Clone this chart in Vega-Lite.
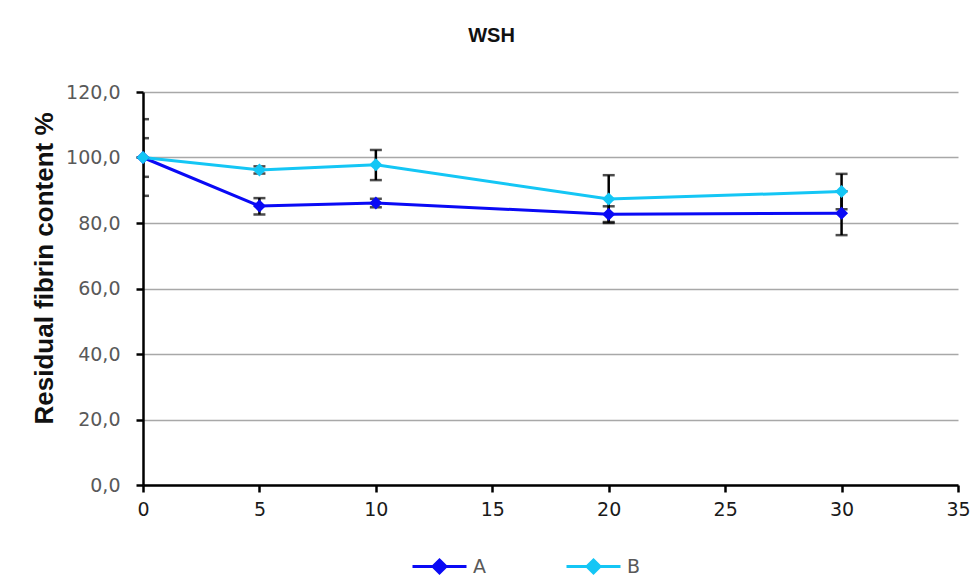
{
  "$schema": "https://vega.github.io/schema/vega-lite/v6.json",
  "width": 815,
  "height": 393,
  "autosize": {"type": "none"},
  "padding": {"left": 143, "top": 92, "right": 18, "bottom": 99},
  "background": "white",
  "title": {
    "text": "WSH",
    "font": "Liberation Sans",
    "fontSize": 20,
    "fontWeight": "bold",
    "color": "#111111",
    "anchor": "middle",
    "frame": "group",
    "dx": -59,
    "offset": 37
  },
  "data": {
    "values": [
      {"series": "A", "t": 0, "value": 100.0, "lo": 88.3, "hi": 111.7},
      {"series": "A", "t": 5, "value": 85.2, "lo": 82.6, "hi": 87.6},
      {"series": "A", "t": 10, "value": 86.1, "lo": 84.8, "hi": 87.4},
      {"series": "A", "t": 20, "value": 82.7, "lo": 80.3, "hi": 85.1},
      {"series": "A", "t": 30, "value": 83.0, "lo": 76.3, "hi": 89.7},
      {"series": "B", "t": 0, "value": 100.0, "lo": 94.1, "hi": 105.9},
      {"series": "B", "t": 5, "value": 96.2, "lo": 95.1, "hi": 97.3},
      {"series": "B", "t": 10, "value": 97.8, "lo": 93.1, "hi": 102.3},
      {"series": "B", "t": 20, "value": 87.3, "lo": 80.0, "hi": 94.6},
      {"series": "B", "t": 30, "value": 89.6, "lo": 84.2, "hi": 95.0}
    ]
  },
  "layer": [
    {
      "mark": {"type": "rule", "color": "black", "strokeWidth": 2.5, "clip": true},
      "encoding": {
        "x": {"field": "t", "type": "quantitative"},
        "y": {"field": "lo", "type": "quantitative"},
        "y2": {"field": "hi"}
      }
    },
    {
      "mark": {"type": "tick", "color": "black", "thickness": 2.5, "size": 12, "orient": "horizontal", "clip": true},
      "encoding": {
        "x": {"field": "t", "type": "quantitative"},
        "y": {"field": "lo", "type": "quantitative"}
      }
    },
    {
      "mark": {"type": "tick", "color": "black", "thickness": 2.5, "size": 12, "orient": "horizontal", "clip": true},
      "encoding": {
        "x": {"field": "t", "type": "quantitative"},
        "y": {"field": "hi", "type": "quantitative"}
      }
    },
    {
      "mark": {
        "type": "line",
        "strokeWidth": 3,
        "point": {"filled": true, "shape": "diamond", "size": 170, "opacity": 1}
      },
      "encoding": {
        "x": {
          "field": "t",
          "type": "quantitative",
          "scale": {"domain": [0, 35], "nice": false},
          "axis": {
            "title": null,
            "values": [0, 5, 10, 15, 20, 25, 30, 35],
            "grid": false,
            "domainColor": "black",
            "domainWidth": 2.5,
            "tickColor": "black",
            "tickWidth": 2.5,
            "tickSize": 7,
            "labelFont": "DejaVu Sans",
            "labelFontSize": 19,
            "labelColor": "#1a1a1a",
            "labelPadding": 8,
            "labelFlush": false
          }
        },
        "y": {
          "field": "value",
          "type": "quantitative",
          "scale": {"domain": [0, 120], "nice": false},
          "axis": {
            "title": "Residual fibrin content %",
            "titleFont": "Liberation Sans",
            "titleFontSize": 26,
            "titleFontWeight": "bold",
            "titleColor": "#111111",
            "titleAngle": -90,
            "titleX": -99,
            "titleY": 176,
            "titleAlign": "center",
            "titleBaseline": "middle",
            "values": [0, 20, 40, 60, 80, 100, 120],
            "labelExpr": "replace(format(datum.value, '.1f'), '.', ',')",
            "grid": true,
            "gridColor": "#a8a8a8",
            "gridWidth": 1.5,
            "domainColor": "black",
            "domainWidth": 2.5,
            "tickColor": "black",
            "tickWidth": 2.5,
            "tickSize": 7,
            "labelFont": "DejaVu Sans",
            "labelFontSize": 19,
            "labelColor": "#595959",
            "labelPadding": 16
          }
        },
        "color": {
          "field": "series",
          "type": "nominal",
          "scale": {"domain": ["A", "B"], "range": ["#0a0af5", "#14c6f5"]},
          "legend": {
            "title": null,
            "orient": "none",
            "legendX": 268,
            "legendY": 446,
            "direction": "horizontal",
            "symbolType": "M-1,0H1M0,-0.24L0.24,0L0,0.24L-0.24,0Z",
            "symbolSize": 2916,
            "symbolStrokeWidth": 3,
            "labelOffset": 5,
            "labelFont": "DejaVu Sans",
            "labelFontSize": 19,
            "labelColor": "#595959",
            "columnPadding": 74,
            "encode": {
              "symbols": {"update": {"fill": {"scale": "color", "field": "value"}, "stroke": {"scale": "color", "field": "value"}, "opacity": {"value": 1}}}
            }
          }
        }
      }
    }
  ],
  "config": {"view": {"stroke": null}}
}
